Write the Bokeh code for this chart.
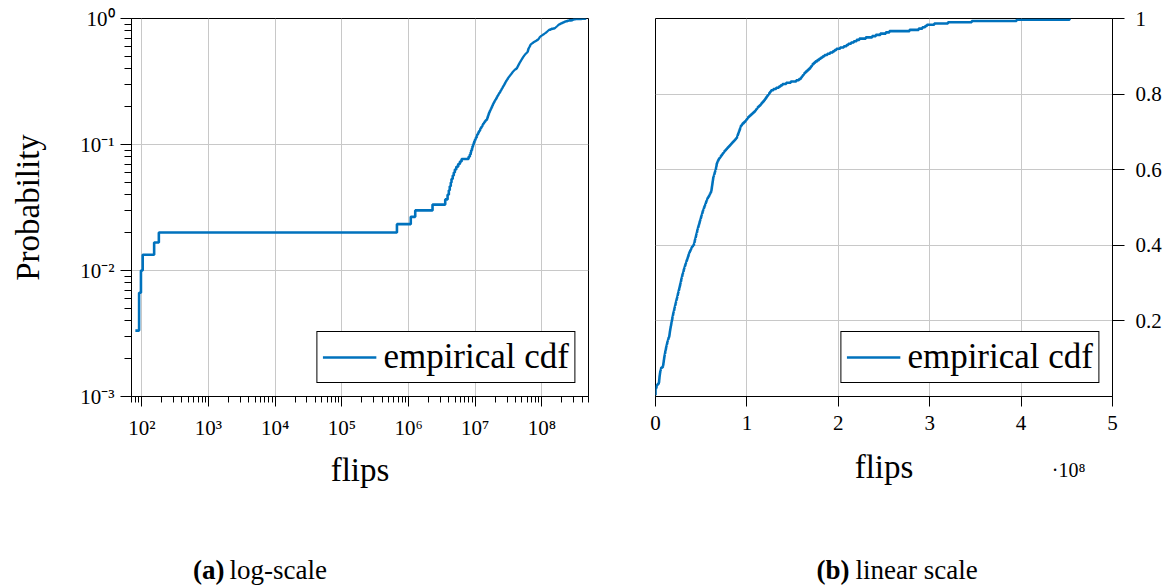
from bokeh.plotting import figure
from bokeh.layouts import row, column
from bokeh.models import Range1d, FixedTicker, CustomJSTickFormatter, Title
from bokeh.core.properties import value
from bokeh.embed import file_html
from bokeh.resources import INLINE

# ---------------- data: sorted number of flips of 300 runs ----------------
flips = [
    8.0e1, 9.1e1, 9.7e1, 1.03e2, 1.53e2, 1.80e2, 6.7e5, 1.08e6, 1.26e6, 2.29e6, 3.55e6, 3.85e6,
    4.02e6, 4.15e6, 4.30e6, 4.41e6, 4.60e6, 4.77e6, 4.95e6, 5.20e6, 5.55e6,
    5.90e6, 6.25e6,
    7.95e6, 8.30e6,
    8.55e6, 8.70e6, 8.95e6, 9.10e6, 9.30e6, 9.50e6, 9.70e6, 9.95e6,
    1.02e7, 1.05e7, 1.07e7, 1.10e7, 1.13e7, 1.16e7, 1.19e7,
    1.22e7, 1.25e7, 1.29e7, 1.32e7, 1.36e7, 1.40e7, 1.44e7, 1.50e7,
    1.52e7, 1.54e7, 1.56e7, 1.58e7, 1.60e7, 1.62e7, 1.65e7, 1.67e7, 1.70e7, 1.72e7, 1.75e7, 1.78e7,
    1.80e7, 1.83e7, 1.85e7, 1.88e7, 1.91e7, 1.94e7, 1.97e7, 2.00e7, 2.04e7, 2.07e7, 2.10e7, 2.13e7,
    2.16e7, 2.20e7, 2.23e7, 2.26e7, 2.29e7, 2.33e7, 2.37e7,
    2.40e7, 2.43e7, 2.46e7, 2.50e7, 2.53e7, 2.56e7, 2.60e7, 2.63e7, 2.66e7, 2.70e7, 2.73e7, 2.76e7,
    2.79e7, 2.82e7, 2.85e7, 2.88e7, 2.92e7, 2.95e7, 2.99e7,
    3.03e7, 3.07e7, 3.10e7, 3.14e7, 3.18e7, 3.22e7, 3.27e7, 3.31e7, 3.36e7, 3.40e7, 3.45e7, 3.50e7,
    3.54e7, 3.59e7, 3.63e7, 3.68e7, 3.74e7, 3.80e7, 3.86e7, 3.93e7, 4.00e7, 4.10e7, 4.20e7,
    4.23e7, 4.27e7, 4.30e7, 4.33e7, 4.37e7, 4.40e7, 4.44e7, 4.47e7, 4.50e7, 4.54e7, 4.57e7, 4.60e7,
    4.64e7, 4.68e7, 4.72e7, 4.76e7, 4.80e7, 4.84e7, 4.88e7, 4.92e7, 4.96e7, 5.00e7, 5.04e7, 5.08e7,
    5.12e7, 5.16e7, 5.20e7, 5.25e7, 5.30e7,
    5.35e7, 5.40e7, 5.45e7, 5.50e7, 5.55e7, 5.60e7, 5.66e7, 5.72e7, 5.80e7, 5.88e7, 5.95e7, 6.02e7,
    6.08e7, 6.12e7, 6.14e7, 6.16e7, 6.18e7, 6.20e7, 6.22e7, 6.24e7, 6.26e7, 6.28e7, 6.30e7, 6.32e7,
    6.36e7, 6.40e7, 6.44e7, 6.48e7, 6.52e7, 6.56e7, 6.60e7, 6.63e7, 6.66e7, 6.68e7, 6.70e7,
    6.75e7, 6.80e7, 6.88e7, 6.95e7, 7.05e7, 7.15e7, 7.25e7, 7.35e7, 7.45e7, 7.55e7, 7.68e7, 7.80e7,
    7.92e7, 8.05e7, 8.18e7, 8.30e7, 8.42e7, 8.55e7, 8.68e7, 8.80e7, 8.90e7, 8.95e7, 9.00e7, 9.05e7,
    9.10e7, 9.15e7, 9.20e7, 9.25e7, 9.30e7, 9.35e7, 9.45e7, 9.55e7, 9.70e7, 9.85e7, 9.95e7, 1.005e8,
    1.015e8, 1.03e8, 1.045e8, 1.06e8, 1.075e8, 1.09e8, 1.10e8, 1.11e8, 1.12e8, 1.135e8, 1.15e8,
    1.16e8, 1.172e8, 1.185e8, 1.195e8, 1.205e8, 1.215e8, 1.225e8, 1.235e8, 1.245e8, 1.255e8,
    1.265e8, 1.29e8, 1.32e8, 1.35e8, 1.37e8, 1.39e8, 1.43e8, 1.48e8,
    1.54e8, 1.57e8, 1.59e8, 1.60e8, 1.61e8, 1.62e8, 1.63e8, 1.645e8, 1.66e8, 1.675e8, 1.69e8,
    1.70e8, 1.71e8, 1.72e8, 1.735e8, 1.75e8, 1.77e8, 1.79e8, 1.81e8, 1.83e8, 1.85e8, 1.88e8,
    1.91e8, 1.94e8,
    1.96e8, 1.98e8, 2.02e8, 2.06e8, 2.09e8, 2.11e8, 2.14e8, 2.17e8, 2.20e8, 2.23e8, 2.30e8,
    2.37e8, 2.41e8, 2.46e8, 2.52e8, 2.56e8, 2.78e8, 2.88e8, 2.92e8, 2.95e8, 2.97e8, 3.05e8,
    3.20e8, 3.46e8, 3.95e8, 4.53e8,
]
N = len(flips)
prob = [(i + 1) / N for i in range(N)]   # empirical cdf

log_x_ticks = [1e2, 1e3, 1e4, 1e5, 1e6, 1e7, 1e8]
log_y_ticks = [1e-3, 1e-2, 1e-1, 1.0]
lin_x_ticks = [0, 1e8, 2e8, 3e8, 4e8, 5e8]
lin_y_ticks = [0.2, 0.4, 0.6, 0.8, 1.0]
series_label = "empirical cdf"
x_title = "flips"
y_title = "Probability"
scale_note = "\u00b710\u2078"
cap_tags = ["(a)", "(b)"]
cap_texts = ["log-scale", "linear scale"]

# ---------------- style ----------------
FONT = "Liberation Serif"
BLUE = "#0072BD"
GRID = "#c8c8c8"
TICK_FS = "21px"
LABEL_FS = "33px"
LEGEND_FS = "35px"
CAP_FS = "27px"

XMIN, XMAX = 70, 5e8
PH = 510  # height of the two chart panels

SUP = """
const sup = {'-':'\u207b','0':'\u2070','1':'\u00b9','2':'\u00b2','3':'\u00b3','4':'\u2074',
             '5':'\u2075','6':'\u2076','7':'\u2077','8':'\u2078','9':'\u2079'};
const e = Math.round(Math.log10(tick));
return '10' + String(e).split('').map(c => sup[c]).join('');
"""


def style_axis(ax, tick_out, minor_out):
    ax.axis_line_color = "black"
    ax.major_tick_line_color = "black"
    ax.minor_tick_line_color = "black"
    ax.major_tick_out = tick_out
    ax.major_tick_in = 0
    ax.minor_tick_out = minor_out
    ax.minor_tick_in = 0
    ax.major_label_text_font = FONT
    ax.major_label_text_font_size = TICK_FS
    ax.major_label_text_color = "black"
    ax.axis_label_text_font = FONT
    ax.axis_label_text_font_size = LABEL_FS
    ax.axis_label_text_font_style = "normal"
    ax.axis_label_text_color = "black"


def style_legend(p):
    lg = p.legend[0]
    lg.location = "bottom_right"
    lg.margin = 13
    lg.padding = 5
    lg.spacing = 0
    lg.border_line_color = "black"
    lg.border_line_alpha = 1
    lg.border_line_width = 1
    lg.background_fill_alpha = 1
    lg.label_text_font = FONT
    lg.label_text_font_size = LEGEND_FS
    lg.label_text_color = "black"
    lg.glyph_width = 54
    lg.glyph_height = 28
    lg.label_standoff = 7
    lg.label_height = 28


# ---------------- (a) log-scale ----------------
p1 = figure(width=620, height=PH, x_axis_type="log", y_axis_type="log",
            x_range=Range1d(XMIN, XMAX), y_range=Range1d(1e-3, 1.0),
            output_backend="svg", toolbar_location=None,
            min_border_left=131, min_border_right=32, min_border_top=18,
            min_border_bottom=PH - 396)
p1.step(flips, prob, mode="after", line_color=BLUE, line_width=2.6, legend_label=series_label)

p1.xaxis.ticker = FixedTicker(ticks=log_x_ticks,
                              minor_ticks=[m * 10 ** k for k in range(1, 9) for m in range(2, 10)])
p1.yaxis.ticker = FixedTicker(ticks=log_y_ticks,
                              minor_ticks=[m * 10 ** k for k in range(-3, 0) for m in range(2, 10)])
p1.xaxis.formatter = CustomJSTickFormatter(code=SUP)
p1.yaxis.formatter = CustomJSTickFormatter(code=SUP)
style_axis(p1.xaxis[0], 10, 6)
style_axis(p1.yaxis[0], 11, 7)
p1.xaxis.major_label_standoff = 9
p1.yaxis.major_label_standoff = 6
p1.xaxis.axis_label = x_title
p1.yaxis.axis_label = y_title
p1.xaxis.axis_label_standoff = 9
p1.yaxis.axis_label_standoff = 31
p1.xgrid.grid_line_color = GRID
p1.ygrid.grid_line_color = GRID
p1.outline_line_color = "black"
p1.outline_line_alpha = 1
style_legend(p1)

# ---------------- (b) linear scale ----------------
p2 = figure(width=554, height=PH, x_range=Range1d(0, 5e8), y_range=Range1d(0, 1.0),
            y_axis_location="right", output_backend="svg", toolbar_location=None,
            min_border_left=35, min_border_right=62, min_border_top=18,
            min_border_bottom=PH - 396)
p2.step(flips, prob, mode="after", line_color=BLUE, line_width=2.6, legend_label=series_label)
p2.xaxis.ticker = FixedTicker(ticks=lin_x_ticks)
p2.yaxis.ticker = FixedTicker(ticks=lin_y_ticks)
p2.xaxis.formatter = CustomJSTickFormatter(code="return (tick / 1e8).toFixed(0);")
p2.yaxis.formatter = CustomJSTickFormatter(code="return tick >= 0.999 ? '1' : tick.toFixed(1);")
style_axis(p2.xaxis[0], 10, 0)
style_axis(p2.yaxis[0], 12, 0)
p2.xaxis.major_label_standoff = 9
p2.yaxis.major_label_standoff = 11
p2.xaxis.axis_label = x_title
p2.xaxis.axis_label_standoff = 16
p2.xgrid.grid_line_color = GRID
p2.ygrid.grid_line_color = GRID
p2.outline_line_color = "black"
p2.outline_line_alpha = 1
style_legend(p2)

p2.add_layout(Title(text=scale_note, align="right", offset=27, standoff=-58,
                    vertical_align="top",
                    text_font=FONT, text_font_size="20px", text_font_style="normal",
                    text_color="black"), "below")

# ---------------- captions ----------------
cap = figure(width=1174, height=588 - PH, x_range=Range1d(0, 1174), y_range=Range1d(588 - PH, 0),
             output_backend="svg", toolbar_location=None, min_border=0,
             x_axis_location=None, y_axis_location=None, outline_line_color=None)
cap.xgrid.visible = False
cap.ygrid.visible = False
cap.text(x=[224, 849], y=[59, 59], text=cap_tags, text_align="right",
         text_baseline="alphabetic", text_font=value(FONT), text_font_style="bold",
         text_font_size=CAP_FS, text_color="black")
cap.text(x=[229, 855], y=[59, 59], text=cap_texts, text_align="left",
         text_baseline="alphabetic", text_font=value(FONT),
         text_font_size=CAP_FS, text_color="black")

layout = column(row(p1, p2), cap)
with open("out.html", "w") as f:
    f.write(file_html(layout, INLINE))
